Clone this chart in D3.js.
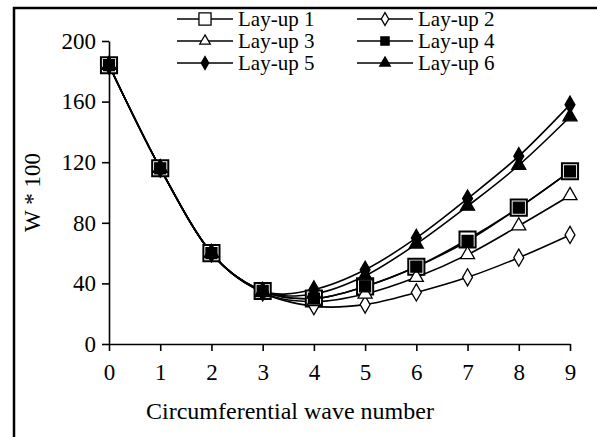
<!DOCTYPE html>
<html>
<head>
<meta charset="utf-8">
<script src="https://cdn.jsdelivr.net/npm/d3@7"></script>
<style>
  body { margin: 0; background: #fff; }
  svg { display: block; }
  text { font-family: "Liberation Serif", "Times New Roman", "DejaVu Serif", serif; }
</style>
</head>
<body>
<div id="chart"></div>
<script>
var width = 597, height = 437;
var fontFamily = "'Liberation Serif', 'Times New Roman', 'DejaVu Serif', serif";

// wave numbers on the x axis
var waveNumbers = [0, 1, 2, 3, 4, 5, 6, 7, 8, 9];
var yTicks = [0, 40, 80, 120, 160, 200];

// W * 100 for each lay-up
var layup1 = [184, 116, 60, 35, 30, 38, 51, 69, 90, 114];
var layup2 = [184, 116, 60, 34, 25, 26, 34, 44, 57, 72];
var layup3 = [184, 116, 60, 34, 28, 33, 44, 59, 78, 98];
var layup4 = [184, 116, 60, 35, 30, 38, 51, 68, 90, 114];
var layup5 = [184, 116, 60, 35, 36, 49, 70, 96, 124, 158];
var layup6 = [184, 116, 60, 35, 33, 45, 66, 91, 118, 150];

var seriesNames = ["Lay-up 1", "Lay-up 2", "Lay-up 3", "Lay-up 4", "Lay-up 5", "Lay-up 6"];
var seriesValues = [layup1, layup2, layup3, layup4, layup5, layup6];
var markerKinds = ["bigSquare", "diamond", "triangle", "square", "diamond", "triangle"];
var markerFilled = [false, false, false, true, true, true];

var margin = {left: 109, right: 27, top: 41, bottom: 93};

var svg = d3.select("#chart").append("svg")
  .attr("width", width)
  .attr("height", height);

// outer frame (runs off the right and bottom of the picture)
svg.append("rect")
  .attr("x", 14).attr("y", 8)
  .attr("width", 600).attr("height", 450)
  .attr("fill", "none")
  .attr("stroke", "#000")
  .attr("stroke-width", 2.5);

var x = d3.scaleLinear().domain([0, 9]).range([margin.left, width - margin.right]);
var y = d3.scaleLinear().domain([0, 200]).range([height - margin.bottom, margin.top]);

var xAxis = d3.axisBottom(x).tickValues(waveNumbers).tickSize(7).tickPadding(13).tickSizeOuter(0);
var yAxis = d3.axisLeft(y).tickValues(yTicks).tickSize(7).tickPadding(6).tickSizeOuter(0);

var gx = svg.append("g")
  .attr("transform", "translate(0," + y(0) + ")")
  .call(xAxis);
var gy = svg.append("g")
  .attr("transform", "translate(" + x(0) + ",0)")
  .call(yAxis);

[gx, gy].forEach(function(g) {
  g.attr("font-family", fontFamily).attr("font-size", 23);
  g.selectAll("path, line").attr("stroke", "#000").attr("stroke-width", 1.6);
  g.selectAll("text").attr("fill", "#000");
});

svg.append("text")
  .attr("x", 290)
  .attr("y", 419)
  .attr("text-anchor", "middle")
  .attr("font-family", fontFamily)
  .attr("font-size", 24)
  .text("Circumferential wave number");

svg.append("text")
  .attr("transform", "translate(40," + y(100) + ") rotate(-90)")
  .attr("text-anchor", "middle")
  .attr("font-family", fontFamily)
  .attr("font-size", 23)
  .text("W * 100");

var line = d3.line()
  .x(function(d, i) { return x(waveNumbers[i]); })
  .y(function(d) { return y(d); })
  .curve(d3.curveCardinal.tension(0));

function markerPath(kind, scale) {
  var s = scale || 1;
  if (kind == "bigSquare") return d3.symbol().type(d3.symbolSquare).size(260 * s * s)();
  if (kind == "square") return d3.symbol().type(d3.symbolSquare).size(120 * s * s)();
  if (kind == "diamond") return d3.symbol().type(d3.symbolDiamond).size(85 * s * s)();
  return d3.symbol().type(d3.symbolTriangle).size(85 * s * s)();
}

seriesValues.forEach(function(vals, k) {
  svg.append("path")
    .datum(vals)
    .attr("fill", "none")
    .attr("stroke", "#000")
    .attr("stroke-width", 1.6)
    .attr("d", line);
});

seriesValues.forEach(function(vals, k) {
  svg.append("g").selectAll("path")
    .data(vals)
    .enter()
    .append("path")
    .attr("transform", function(d, i) { return "translate(" + x(waveNumbers[i]) + "," + y(d) + ")"; })
    .attr("d", markerPath(markerKinds[k]))
    .attr("fill", markerFilled[k] ? "#000" : "#fff")
    .attr("stroke", "#000")
    .attr("stroke-width", markerKinds[k] == "bigSquare" ? 2 : 1.3);
});

// legend, two columns of three rows
var legend = svg.append("g")
  .attr("font-family", fontFamily)
  .attr("font-size", 21);
seriesNames.forEach(function(name, k) {
  var col = k % 2, row = Math.floor(k / 2);
  var lx = 177 + col * 180, ly = 19 + row * 22;
  var item = legend.append("g").attr("transform", "translate(" + lx + "," + ly + ")");
  item.append("line")
    .attr("x1", 0).attr("x2", 56)
    .attr("stroke", "#000").attr("stroke-width", 1.6);
  item.append("path")
    .attr("transform", "translate(28,0)")
    .attr("d", markerPath(markerKinds[k], 0.75))
    .attr("fill", markerFilled[k] ? "#000" : "#fff")
    .attr("stroke", "#000")
    .attr("stroke-width", 1.3);
  item.append("text")
    .attr("x", 61).attr("y", 7)
    .text(name);
});
</script>
</body>
</html>
